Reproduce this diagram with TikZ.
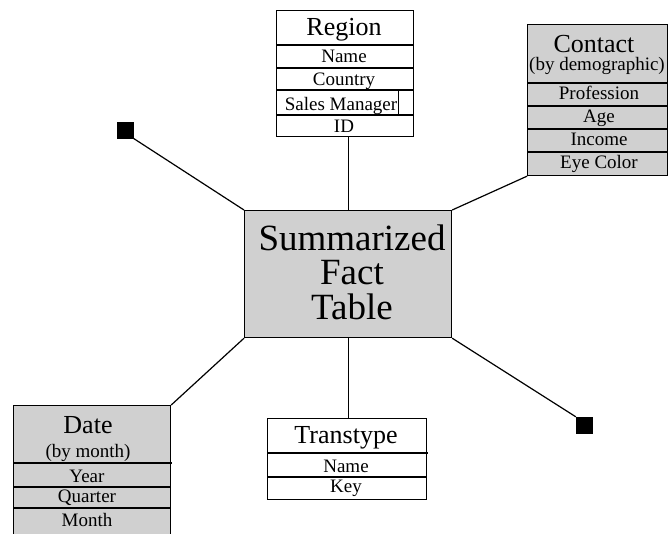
\documentclass[tikz,border=0pt]{standalone}
\usepackage{fontspec}
\setmainfont{Liberation Serif}
\definecolor{cellgray}{RGB}{208,208,208}
\begin{document}
\begin{tikzpicture}[x=1pt,y=-1pt,
  tbl/.style={draw=black, line width=1.2pt, rectangle, inner sep=0pt, anchor=north west},
  sep/.style={draw=black, line width=1.1pt},
  ttl/.style={anchor=base, inner sep=0pt, font=\fontsize{26}{26}\selectfont},
  row/.style={anchor=base, inner sep=0pt, font=\fontsize{19}{19}\selectfont},
  big/.style={anchor=base, inner sep=0pt, align=center, font=\fontsize{37}{34.5}\selectfont},
  link/.style={draw=black, line width=1.2pt},
  endsq/.style={fill=black, draw=black, minimum size=16pt, inner sep=0pt}]
\useasboundingbox (0,0) rectangle (668,533);

% central fact table (base anchor sits on the last line)
\node[tbl, fill=cellgray, minimum width=207pt, minimum height=127pt] (fact) at (244,210) {};
\node[big] (factT) at (352,319) {Summarized\\Fact\\Table};

% Region dimension
\node[tbl, fill=white, minimum width=137pt, minimum height=126pt] (region) at (276,10) {};
\draw[sep] (276,45) -- (413,45);
\draw[sep] (276,68) -- (413,68);
\draw[sep] (276,90) -- (413,90);
\draw[sep] (276,115) -- (413,115);
\draw[sep, line width=0.8pt] (398,90) -- (398,115);
\node[ttl] (regionT) at (344,35) {Region};
\node[row] (regionA) at (344,62) {Name};
\node[row] (regionB) at (344,85) {Country};
\node[row] (regionC) at (341,110) {Sales Manager};
\node[row] (regionD) at (344,132) {ID};

% Contact dimension
\node[tbl, fill=cellgray, minimum width=140pt, minimum height=151pt] (contact) at (527,24) {};
\draw[sep] (527,83) -- (667,83);
\draw[sep] (527,106) -- (667,106);
\draw[sep] (527,129) -- (667,129);
\draw[sep] (527,152) -- (667,152);
\node[ttl] (contactT) at (594,52) {Contact};
\node[row] (contactS) at (597,70) {(by demographic)};
\node[row] (contactA) at (599,99) {Profession};
\node[row] (contactB) at (599,122) {Age};
\node[row] (contactC) at (599,145) {Income};
\node[row] (contactD) at (599,168) {Eye Color};

% Date dimension
\node[tbl, fill=cellgray, minimum width=157pt, minimum height=140pt] (date) at (13,405) {};
\draw[sep] (13,463) -- (172,463);
\draw[sep] (13,487) -- (170,487);
\draw[sep] (13,508) -- (170,508);
\node[ttl] (dateT) at (88,433) {Date};
\node[row] (dateS) at (88,457) {(by month)};
\node[row] (dateA) at (87,482) {Year};
\node[row] (dateB) at (87,502) {Quarter};
\node[row] (dateC) at (87,526) {Month};

% Transtype dimension
\node[tbl, fill=white, minimum width=159pt, minimum height=81pt] (trans) at (267,418) {};
\draw[sep] (267,453) -- (428,453);
\draw[sep] (267,477) -- (426,477);
\node[ttl] (transT) at (346,443) {Transtype};
\node[row] (transA) at (346,472) {Name};
\node[row] (transB) at (346,492) {Key};

% unnamed dimensions shown as black end squares
\node[endsq] (sqA) at (125,130) {};
\node[endsq] (sqB) at (584,425) {};

% links from the fact table
\draw[link] (fact.north) -- (fact.north |- region.south);
\draw[link] (contact.south west) -- (fact.north east);
\draw[link] (date.north east) -- (fact.south west);
\draw[link] (fact.south) -- (fact.south |- trans.north);
\draw[link] (sqA.south east) -- (fact.north west);
\draw[link] (sqB.north west) -- (fact.south east);
\end{tikzpicture}
\end{document}
